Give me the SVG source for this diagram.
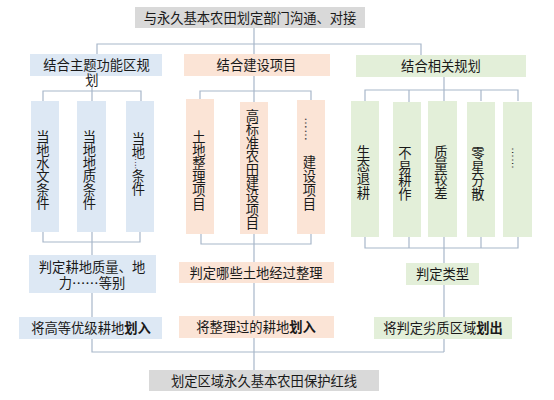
<svg xmlns="http://www.w3.org/2000/svg" width="554" height="400" viewBox="0 0 554 400">
<style>
text{font-family:"Noto Sans CJK SC","Microsoft YaHei",sans-serif;font-size:13.3px;fill:#1a1a1a;text-anchor:middle}
.b{fill:#dde8f4}
.p{fill:#fbe4d6}
.g{fill:#e3efd9}
.k{fill:#d9d9d9}
.ln{fill:none;stroke:#a8b7ca;stroke-width:1.2}
.bold{font-weight:bold}
.dots{font-family:"Liberation Sans",sans-serif}
</style>
<rect width="554" height="400" fill="#ffffff"/>
<g id="connectors" class="ln">
<path d="M254,28V54M97,54V44H421V55"/>
<path d="M92,87V101M43,101V91H141V101"/>
<path d="M254,76V102M200,99V91H311V100"/>
<path d="M444,77V101M365,101V90H518V101M409,90V102M481,90V101"/>
<path d="M43,232V242H140V232M92,232V255M92,293V317M92,339V352H444"/>
<path d="M201,234V244H311V234M254,234V262M254,283V316M254,338V370"/>
<path d="M365,237V248H518V237M409,237V248M481,237V248M444,237V263M444,285V317M444,339V352"/>
</g>
<g id="top"><rect class="k" x="135" y="7" width="230" height="21"/><text x="250" y="22.5">与永久基本农田划定部门沟通、对接</text></g>
<g id="zhuti"><rect class="b" x="30" y="54" width="132" height="22"/><text x="96.5" y="70">结合主题功能区规</text><text x="92" y="85">划</text></g>
<g id="jianshe"><rect class="p" x="184" y="54" width="146" height="22"/><text x="256.5" y="70">结合建设项目</text></g>
<g id="xiangguan"><rect class="g" x="356" y="55" width="170" height="22"/><text x="441" y="70.5">结合相关规划</text></g>

<g id="shuiwen"><rect class="b" x="31" y="101" width="28" height="131"/><text y="141.5"><tspan x="43">当</tspan><tspan x="43" dy="13.3">地</tspan><tspan x="43" dy="13.3">水</tspan><tspan x="43" dy="13.3">文</tspan><tspan x="43" dy="13.3">条</tspan><tspan x="43" dy="13.3">件</tspan></text></g>
<g id="dizhi"><rect class="b" x="77" y="101" width="29" height="131"/><text y="141.5"><tspan x="89.5">当</tspan><tspan x="89.5" dy="13.3">地</tspan><tspan x="89.5" dy="13.3">地</tspan><tspan x="89.5" dy="13.3">质</tspan><tspan x="89.5" dy="13.3">条</tspan><tspan x="89.5" dy="13.3">件</tspan></text></g>
<g id="dangdi"><rect class="b" x="126" y="101" width="28" height="131"/><text y="144"><tspan x="138.5">当</tspan><tspan x="138.5" dy="13">地</tspan></text><text class="dots" transform="translate(135,161) rotate(90)" style="font-size:8.5px">……</text><text y="181"><tspan x="138.5">条</tspan><tspan x="138.5" dy="13">件</tspan></text></g>

<g id="tudi"><rect class="p" x="186" y="99" width="28" height="135"/><text y="141.5"><tspan x="199">土</tspan><tspan x="199" dy="13.4">地</tspan><tspan x="199" dy="13.4">整</tspan><tspan x="199" dy="13.4">理</tspan><tspan x="199" dy="13.4">项</tspan><tspan x="199" dy="13.4">目</tspan></text></g>
<g id="gaobiao"><rect class="p" x="240" y="102" width="28" height="132"/><text y="121"><tspan x="252.5">高</tspan><tspan x="252.5" dy="13.4">标</tspan><tspan x="252.5" dy="13.4">准</tspan><tspan x="252.5" dy="13.4">农</tspan><tspan x="252.5" dy="13.4">田</tspan><tspan x="252.5" dy="13.4">建</tspan><tspan x="252.5" dy="13.4">设</tspan><tspan x="252.5" dy="13.4">项</tspan><tspan x="252.5" dy="13.4">目</tspan></text></g>
<g id="jianshexiangmu"><rect class="p" x="297" y="100" width="28" height="134"/><text class="dots" transform="translate(305,129) rotate(90)" style="font-size:12px">……</text><text y="166.5"><tspan x="309.5">建</tspan><tspan x="309.5" dy="14">设</tspan><tspan x="309.5" dy="14">项</tspan><tspan x="309.5" dy="14">目</tspan></text></g>

<g id="shengtai"><rect class="g" x="351" y="101" width="28" height="136"/><text y="156.5"><tspan x="363.5">生</tspan><tspan x="363.5" dy="13.7">态</tspan><tspan x="363.5" dy="13.7">退</tspan><tspan x="363.5" dy="13.7">耕</tspan></text></g>
<g id="buyi"><rect class="g" x="393" y="102" width="28" height="135"/><text y="158"><tspan x="405">不</tspan><tspan x="405" dy="13.7">易</tspan><tspan x="405" dy="13.7">耕</tspan><tspan x="405" dy="13.7">作</tspan></text></g>
<g id="zhiliang"><rect class="g" x="428" y="101" width="29" height="136"/><text y="156.5"><tspan x="441">质</tspan><tspan x="441" dy="13.7">量</tspan><tspan x="441" dy="13.7">较</tspan><tspan x="441" dy="13.7">差</tspan></text></g>
<g id="lingxing"><rect class="g" x="467" y="102" width="28" height="135"/><text y="158"><tspan x="478">零</tspan><tspan x="478" dy="13.7">星</tspan><tspan x="478" dy="13.7">分</tspan><tspan x="478" dy="13.7">散</tspan></text></g>
<g id="qita"><rect class="g" x="503" y="102" width="29" height="135"/><text class="dots" transform="translate(512,158) rotate(90)" style="font-size:11px">……</text></g>

<g id="pandingdengbie"><rect class="b" x="29" y="255" width="127" height="38"/><text x="92" y="271.5">判定耕地质量、地</text><text x="92" y="287.5">力……等别</text></g>
<g id="huaru1"><rect class="b" x="19" y="317" width="143" height="22"/><text x="91" y="333">将高等优级耕地<tspan class="bold">划入</tspan></text></g>
<g id="pandingzhengli"><rect class="p" x="179" y="262" width="155" height="21"/><text x="256" y="277.5">判定哪些土地经过整理</text></g>
<g id="huaru2"><rect class="p" x="179" y="316" width="155" height="22"/><text x="256" y="332">将整理过的耕地<tspan class="bold">划入</tspan></text></g>
<g id="pandingleixing"><rect class="g" x="406" y="263" width="73" height="22"/><text x="442.5" y="278.5">判定类型</text></g>
<g id="huachu"><rect class="g" x="374" y="317" width="138" height="22"/><text x="443" y="333">将判定劣质区域<tspan class="bold">划出</tspan></text></g>
<g id="bottom"><rect class="k" x="149" y="370" width="230" height="21"/><text x="264" y="385.5">划定区域永久基本农田保护红线</text></g>
</svg>
